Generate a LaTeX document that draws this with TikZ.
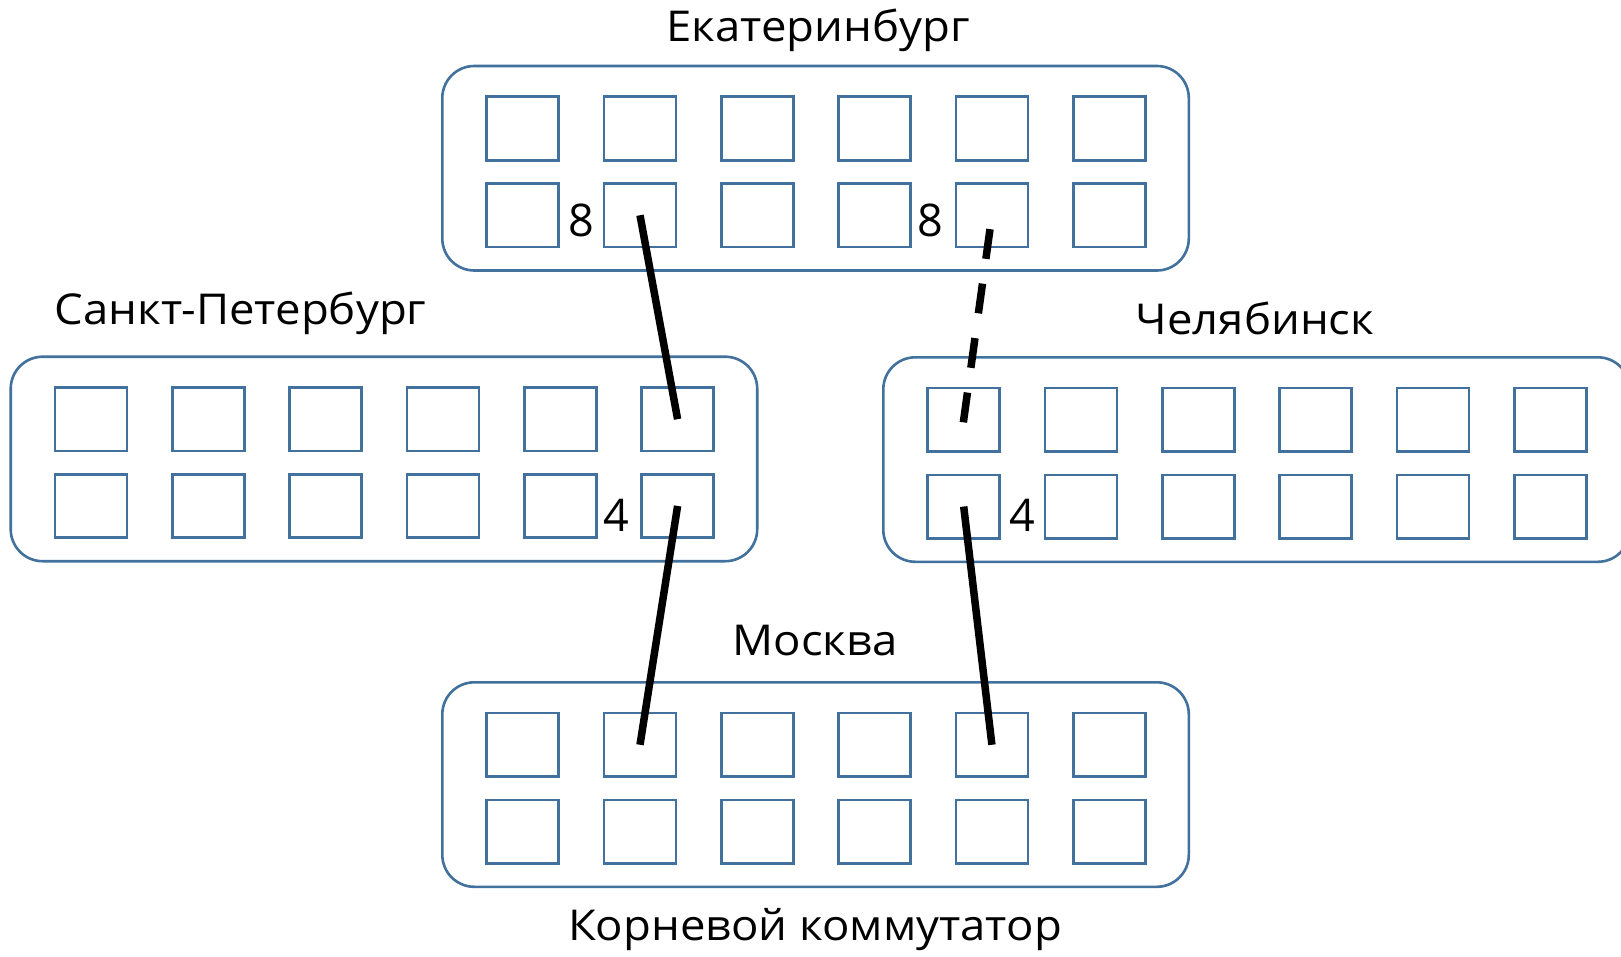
\documentclass[tikz,border=0pt]{standalone}
\usepackage{fontspec}
\setmainfont{Open Sans}
\newfontfamily\titlefont[FakeStretch=1.07]{Open Sans}
\usetikzlibrary{calc}
\definecolor{swblue}{RGB}{65,113,156}
\newcommand\drawswitch[3]{%
  \node[swbox] (#1) at (#2,#3) {};
  \foreach \i in {1,...,6} {
    \pgfmathsetmacro\px{#2+44.4+117.3*(\i-1)}
    \node[port] (#1a\i) at (\px,#3+30.7) {};
    \node[port] (#1b\i) at (\px,#3+117.5) {};
  }%
}
\begin{document}
\begin{tikzpicture}[x=1pt,y=-1pt,
  swbox/.style={draw=swblue,line width=2.6pt,rounded corners=32pt,minimum width=746.5pt,minimum height=204.5pt,inner sep=0pt,outer sep=0pt,anchor=north west},
  port/.style={draw=swblue,line width=2.6pt,minimum width=72pt,minimum height=63.5pt,inner sep=0pt,outer sep=0pt,anchor=north west},
  link/.style={line width=7.5pt,black},
  title/.style={font=\titlefont\fontsize{42.5}{50}\selectfont,anchor=base,inner sep=0pt},
  num/.style={font=\fontsize{45}{52}\selectfont,anchor=base,inner sep=0pt}]
\useasboundingbox (0,0) rectangle (1621,956);
\fill[white] (0,0) rectangle (1621,956);
\drawswitch{E}{442.3}{66}
\drawswitch{S}{10.7}{356.7}
\drawswitch{C}{883.3}{357.3}
\drawswitch{M}{442.3}{682.3}
\draw[link] (Eb2.center) -- (Sa6.center);
\draw[link] (Sb6.center) -- (Ma2.center);
\draw[link,dash pattern=on 30pt off 25pt,shorten <=14pt,shorten >=-8pt] (Eb5.center) -- (Ca1.center);
\draw[link] (Cb1.center) -- (Ma5.center);
\node[title] (tE) at (818,41.7) {Екатеринбург};
\node[title] (tS) at (240.5,324.3) {Санкт-Петербург};
\node[title] (tC) at (1255,334.3) {Челябинск};
\node[title] (tM) at (815,655) {Москва};
\node[title] (tR) at (815,940.7) {Корневой коммутатор};
\node[num] (n1) at (581,236.7) {8};
\node[num] (n2) at (930,236.7) {8};
\node[num] (n3) at (616,531) {4};
\node[num] (n4) at (1022,531) {4};
\end{tikzpicture}
\end{document}
